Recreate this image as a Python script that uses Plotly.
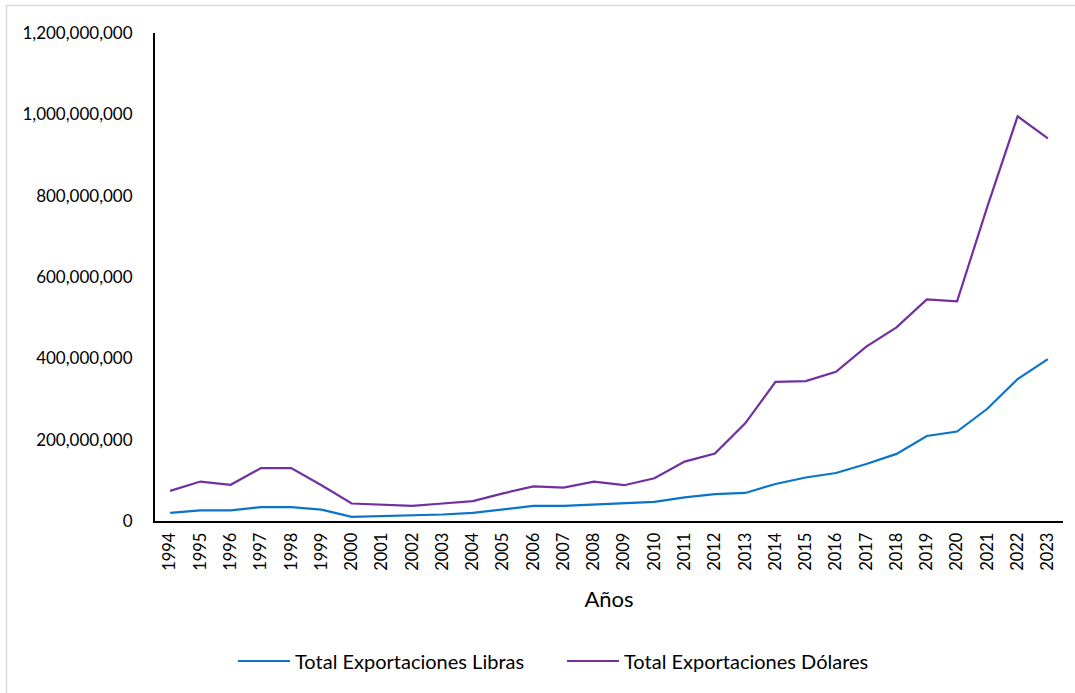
import plotly.graph_objects as go

years = [str(y) for y in range(1994, 2024)]
libras = [20e6, 26e6, 26e6, 34e6, 34e6, 28e6, 10e6, 12e6, 13e6, 16e6,
          20e6, 29e6, 37e6, 37e6, 40e6, 43e6, 47e6, 58e6, 66e6, 69e6,
          91e6, 107e6, 118e6, 140e6, 165e6, 209e6, 220e6, 276e6, 349e6, 398e6]
dolares = [74e6, 97e6, 89e6, 130e6, 130e6, 88e6, 43e6, 40e6, 37e6, 43e6,
           49e6, 68e6, 85e6, 82e6, 97e6, 88e6, 105e6, 146e6, 166e6, 240e6,
           342e6, 344e6, 367e6, 429e6, 476e6, 545e6, 540e6, 773e6, 995e6, 941e6]
y_ticks = [0, 200e6, 400e6, 600e6, 800e6, 1000e6, 1200e6]
y_tick_labels = ["0", "200,000,000", "400,000,000", "600,000,000",
                 "800,000,000", "1,000,000,000", "1,200,000,000"]

W, H = 1075, 693
L, R, T, B = 155, 12, 33, 172

fig = go.Figure()
fig.add_trace(go.Scatter(x=years, y=libras, mode="lines",
                         name="Total Exportaciones Libras",
                         line=dict(color="#0B74C8", width=2.2)))
fig.add_trace(go.Scatter(x=years, y=dolares, mode="lines",
                         name="Total Exportaciones Dólares",
                         line=dict(color="#7030A0", width=2.2)))

pw = W - L - R
ph = H - T - B
fig.add_shape(type="rect", xref="paper", yref="paper",
              x0=(6.5 - L) / pw, x1=(W + 10 - L) / pw,
              y0=-(H + 10 - T - ph) / ph, y1=(H - 5.5 - B) / ph,
              line=dict(color="#D9D9D9", width=1.5), fillcolor="rgba(0,0,0,0)",
              layer="below")

fig.update_layout(
    width=W, height=H,
    margin=dict(l=L, r=R, t=T, b=B, pad=0),
    paper_bgcolor="white", plot_bgcolor="white",
    font=dict(family="Lato, Open Sans, sans-serif", color="#000000", size=17),
    showlegend=True,
    legend=dict(orientation="h", x=(238 - 5 - L) / pw, xanchor="left",
                y=(H - B - 661) / ph, yanchor="middle",
                font=dict(size=20), itemwidth=52, traceorder="normal",
                entrywidth=262, entrywidthmode="pixels"),
    xaxis=dict(type="category", range=[-0.5, 29.5], showgrid=False,
               showline=True, linecolor="black", linewidth=2,
               tickangle=-90, ticks="", tickfont=dict(size=16.5),
               ticklabelstandoff=3,
               title=dict(text="Años", font=dict(size=22), standoff=22)),
    yaxis=dict(range=[0, 1200e6], tickvals=y_ticks, ticktext=y_tick_labels,
               showgrid=False, zeroline=False, showline=True, linecolor="black",
               linewidth=2, ticks="", ticklabelstandoff=17,
               tickfont=dict(size=17)),
)

fig.write_html("out.html", config={"displayModeBar": False},
               post_script="document.body.style.margin='0';document.body.style.overflow='hidden';")
